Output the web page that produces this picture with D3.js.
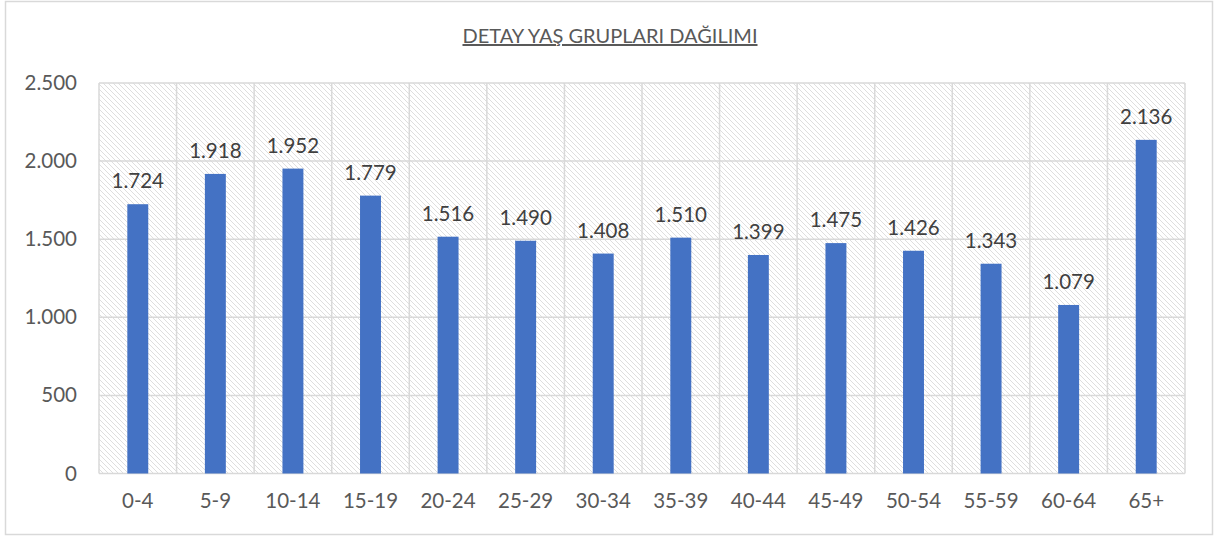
<!DOCTYPE html>
<html>
<head>
<meta charset="utf-8">
<script src="https://cdn.jsdelivr.net/npm/d3@7"></script>
<style>
  body { margin: 0; background: #fff; }
  svg { display: block; }
  text { font-family: Lato, "Open Sans", sans-serif; }
</style>
</head>
<body>
<script>
const title = "DETAY YAŞ GRUPLARI DAĞILIMI"
const categories = ["0-4", "5-9", "10-14", "15-19", "20-24", "25-29", "30-34", "35-39", "40-44", "45-49", "50-54", "55-59", "60-64", "65+"]
const values = [1724, 1918, 1952, 1779, 1516, 1490, 1408, 1510, 1399, 1475, 1426, 1343, 1079, 2136]
const yTicks = [0, 500, 1000, 1500, 2000, 2500]

const width = 1215
const height = 538
const margin = {top: 83, right: 30, bottom: 64, left: 99}

const fmt = v => d3.format(",")(v).replace(/,/g, ".")

const svg = d3.select("body").append("svg")
  .attr("width", width)
  .attr("height", height)

// hatch fill for the plot area
const defs = svg.append("defs")
const pat = defs.append("pattern")
  .attr("id", "hatch")
  .attr("patternUnits", "userSpaceOnUse")
  .attr("width", 5)
  .attr("height", 5)
pat.append("path")
  .attr("d", "M-1,-1 L6,6 M-1,4 L1,6 M4,-1 L6,1")
  .attr("stroke", "#dedede")
  .attr("stroke-width", 1)

// outer frame
svg.append("rect")
  .attr("x", 5.5).attr("y", 1.5)
  .attr("width", 1207).attr("height", 533)
  .attr("fill", "#fff")
  .attr("stroke", "#d9d9d9")
  .attr("stroke-width", 1.5)

const x = d3.scaleBand()
  .domain(categories)
  .range([margin.left, width - margin.right])
  .paddingInner(0.73)
  .paddingOuter(0.365)

const y = d3.scaleLinear()
  .domain([0, 2500])
  .range([height - margin.bottom - 0.5, margin.top])

svg.append("rect")
  .attr("x", margin.left)
  .attr("y", margin.top)
  .attr("width", width - margin.right - margin.left)
  .attr("height", y(0) - margin.top)
  .attr("fill", "url(#hatch)")

// horizontal grid
svg.append("g")
  .selectAll("line")
  .data(yTicks)
  .join("line")
  .attr("x1", margin.left)
  .attr("x2", width - margin.right)
  .attr("y1", d => y(d))
  .attr("y2", d => y(d))
  .attr("stroke", "#d9d9d9")
  .attr("stroke-width", 1.5)

// vertical grid at category boundaries
const step = x.step()
const bounds = d3.range(categories.length + 1).map(i => margin.left + i * step)
svg.append("g")
  .selectAll("line")
  .data(bounds)
  .join("line")
  .attr("x1", d => d)
  .attr("x2", d => d)
  .attr("y1", margin.top)
  .attr("y2", y(0))
  .attr("stroke", "#d9d9d9")
  .attr("stroke-width", 1.5)

// bars
svg.append("g")
  .selectAll("rect")
  .data(values)
  .join("rect")
  .attr("x", (d, i) => x(categories[i]))
  .attr("width", x.bandwidth())
  .attr("y", d => y(d))
  .attr("height", d => y(0) - y(d))
  .attr("fill", "#4472c4")

// data labels
svg.append("g")
  .selectAll("text")
  .data(values)
  .join("text")
  .attr("x", (d, i) => x(categories[i]) + x.bandwidth() / 2)
  .attr("y", d => y(d) - 16)
  .attr("text-anchor", "middle")
  .attr("font-size", 20.5)
  .attr("fill", "#404040")
  .text(fmt)

// y axis labels
const yAxis = svg.append("g")
  .attr("transform", `translate(${margin.left - 22},0)`)
  .call(d3.axisLeft(y).tickValues(yTicks).tickSize(0).tickPadding(0).tickFormat(fmt))
yAxis.select(".domain").remove()
yAxis.selectAll("text")
  .attr("font-size", 20.5)
  .attr("fill", "#595959")
  .attr("font-family", "Lato, sans-serif")

// x axis labels
const xAxis = svg.append("g")
  .attr("transform", `translate(0,${y(0) + 20})`)
  .call(d3.axisBottom(x).tickSize(0).tickPadding(0))
xAxis.select(".domain").remove()
xAxis.selectAll("text")
  .attr("font-size", 20.5)
  .attr("fill", "#595959")
  .attr("font-family", "Lato, sans-serif")
  .attr("dy", "0.71em")

// title
svg.append("text")
  .attr("x", 610)
  .attr("y", 43)
  .attr("text-anchor", "middle")
  .attr("font-size", 20)
  .attr("fill", "#595959")
  .attr("text-decoration", "underline")
  .text(title)
</script>
</body>
</html>
